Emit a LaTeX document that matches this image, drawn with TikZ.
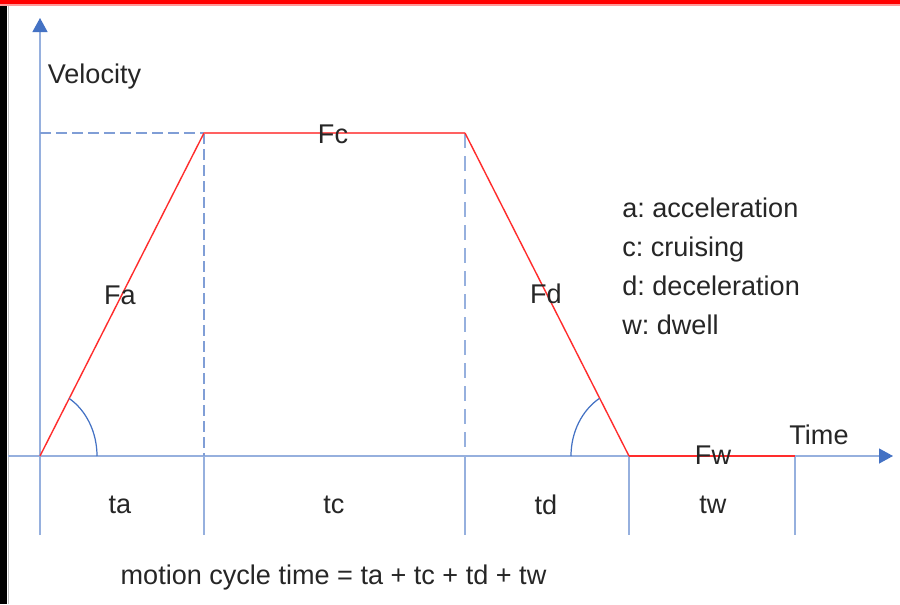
\documentclass[tikz,border=0pt]{standalone}
\usepackage{fontspec}
\setmainfont{Liberation Sans}
\usepackage{xcolor}
\usetikzlibrary{arrows.meta, positioning}

\definecolor{axisblue}{RGB}{68,114,196}
\definecolor{lightblue}{RGB}{150,176,222}
\definecolor{guideblue}{RGB}{128,158,214}
\definecolor{profred}{RGB}{255,45,45}

\tikzset{
  axisline/.style={draw=lightblue, line width=0.7pt},
  tickline/.style={draw=lightblue, line width=1.2pt},
  guide/.style={draw=guideblue, line width=1.5pt, dash pattern=on 0.22cm off 0.1cm},
  profile/.style={draw=profred, line width=0.8pt},
  anglearc/.style={draw=axisblue, line width=0.7pt},
  lbl/.style={inner sep=0pt, font=\fontsize{15.4}{18}\selectfont, text=black!85},
}

\begin{document}
\frenchspacing
\begin{tikzpicture}[>={Triangle[length=0.28cm, width=0.3cm, color=axisblue]}]
  % ── Frame: black strip left, red strip on top ─────────────────
  \useasboundingbox (0,0) rectangle (18,12.08);
  \fill[white] (0,0) rectangle (18,12.08);
  \fill[black] (0,0) rectangle (0.15,12.0);
  \draw[gray!50, line width=0.4pt] (0.165,0) -- (0.165,12.0);
  \fill[red] (0,12.0) rectangle (18,12.08);
  \fill[red!40] (0,11.97) rectangle (18,12.0);
  % ── Corner points of the velocity profile ─────────────────────
  \coordinate (O) at (0.8,2.96);
  \coordinate (A) at (4.08,9.42);
  \coordinate (B) at (9.30,9.42);
  \coordinate (C) at (12.58,2.96);
  \coordinate (D) at (15.90,2.96);
  \coordinate (A0) at (4.08,2.96);
  \coordinate (B0) at (9.30,2.96);
  \coordinate (vlev) at (0.8,9.42);
  \coordinate (vtop) at (0.8,11.72);
  \coordinate (tleft) at (0.17,2.96);
  \coordinate (tright) at (17.86,2.96);
  % lower ends of the phase dividers
  \foreach \n/\x in {O/0.8, A/4.08, B/9.30, C/12.58, D/15.90}
    \coordinate (\n b) at (\x,1.38);
  % ── Axes ──────────────────────────────────────────────────────
  \draw[axisline, ->] (Ob) -- (vtop);
  \draw[axisline, ->] (tleft) -- (tright);
  % ── Dashed guides to the cruise level ─────────────────────────
  \draw[guide] (vlev) -- (A);
  \draw[guide] (A) -- (A0);
  \draw[guide, draw=lightblue, line width=0.7pt, dash pattern=on 0.3cm off 0.16cm] (B) -- (B0);
  % ── Phase dividers below the time axis ────────────────────────
  \draw[tickline] (A0) -- (Ab);
  \draw[axisline] (B0) -- (Bb);
  \draw[tickline] (C) -- (Cb);
  \draw[tickline] (D) -- (Db);
  % ── Trapezoid profile ──────────────────────────────────────────
  \draw[profile] (O) -- (A);
  \draw[profile, draw=profred!75, line width=1.4pt] (A) -- (B);
  \draw[profile] (B) -- (C);
  \draw[profile, line width=1.1pt] (C) -- (D);
  % ── Ramp angles ────────────────────────────────────────────────
  \draw[anglearc] ([xshift=1.14cm]O) arc[start angle=0, end angle=59.2, x radius=1.14cm, y radius=1.34cm];
  \draw[anglearc] ([xshift=-1.16cm]C) arc[start angle=180, end angle=120.8, x radius=1.16cm, y radius=1.34cm];
  % ── Labels ─────────────────────────────────────────────────────
  \node[lbl, anchor=west] (vel) at (0.95,10.54) {Velocity};
  \node[lbl] (time) at (16.38,3.38) {Time};
  \node[lbl] (Fa) at (2.40,6.18) {Fa};
  \node[lbl] (Fc) at (6.66,9.40) {Fc};
  \node[lbl] (Fd) at (10.92,6.20) {Fd};
  \node[lbl] (Fw) at (14.26,2.98) {Fw};
  \foreach \n/\x in {ta/2.40, tc/6.68, td/10.92, tw/14.26}
    \node[lbl] (\n) at (\x,1.98) {\n};
  % legend
  \foreach \i/\t in {0/a: acceleration, 1/c: cruising, 2/d: deceleration, 3/w: dwell}
    \node[lbl, anchor=base west] (key\i) at (12.44,7.74-0.78*\i) {\t};
  \node[lbl] (cycle) at (6.67,0.54) {motion cycle time = ta + tc + td + tw};
\end{tikzpicture}
\end{document}
